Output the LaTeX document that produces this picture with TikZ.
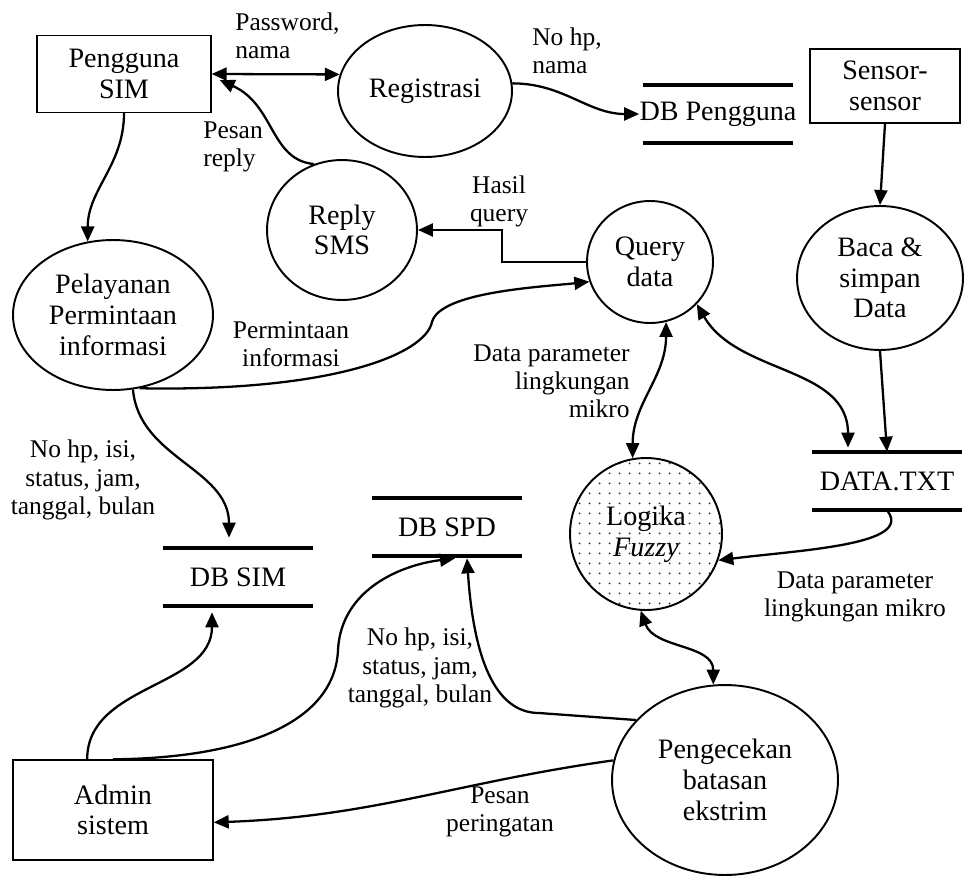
\documentclass[tikz,border=0pt]{standalone}
\usepackage{fontspec}
\setmainfont{Liberation Serif}
\usetikzlibrary{shapes.geometric,arrows.meta,calc,patterns.meta}

\begin{document}
\begin{tikzpicture}[
  % GLOBAL CFG
  x=0.02cm, y=-0.02cm,
  font=\fontsize{16}{17.5}\selectfont,
  >={Triangle[length=3mm,width=2.6mm]},
  % Styles
  entity/.style={% For external entities
      rectangle,
      draw,
      line width=.8pt,
      align=center,
      inner sep=0pt,
      },
  process/.style={% For processes
      ellipse,
      draw,
      line width=1.1pt,
      align=center,
      inner sep=0pt,
      },
  store/.style={% For data stores (the two lines come later)
      rectangle,
      minimum width=3cm,
      minimum height=1.16cm,
      inner sep=0pt,
      },
  storeline/.style={% Lines of a data store
      line width=2.3pt,
      },
  flow/.style={% Data flows
      ->,
      line width=1.3pt,
      },
  mylabel/.style={% Labels of the flows
      font=\fontsize{14.5}{16}\selectfont,
      inner sep=0pt,
      },
  ]

  \useasboundingbox (0,0) rectangle (968,879);

  % Entities
  \node [entity, minimum width=3.48cm, minimum height=1.54cm] (pguna) at (124,74) {Pengguna\\SIM};
  \node [entity, minimum width=3cm, minimum height=1.48cm] (sensor) at (885,86) {Sensor-\\sensor};
  \node [entity, minimum width=4cm, minimum height=2cm] (admin) at (113,810) {Admin\\sistem};

  % Processes
  \node [process, minimum width=3.48cm, minimum height=2.64cm] (regis) at (425,91) {Registrasi};
  \node [process, minimum width=3cm, minimum height=2.8cm] (reply) at (342,230) {Reply\\SMS};
  \node [process, minimum width=2.52cm, minimum height=2.44cm] (query) at (650,262) {Query\\data};
  \node [process, minimum width=3.32cm, minimum height=2.88cm] (baca) at (880,278) {Baca \&\\simpan\\Data};
  \node [process, minimum width=4cm, minimum height=3cm] (layan) at (113,315) {Pelayanan\\Permintaan\\informasi};
  \node [process, minimum width=3.04cm, minimum height=3.04cm,
         pattern={Dots[distance=1.9mm, radius=.6pt]}, pattern color=black!80] (fuzzy) at (646,534) {Logika\\\textit{Fuzzy}};
  \node [process, minimum width=4.52cm, minimum height=3.8cm] (cek) at (725,780) {Pengecekan\\batasan\\ekstrim};

  % Data stores
  \node [store] (dbpgn) at (718,114) {DB Pengguna};
  \node [store] (dtxt) at (887,481) {DATA.TXT};
  \node [store] (dbsim) at (238,577) {DB SIM};
  \node [store] (dbspd) at (447,527) {DB SPD};
  \foreach \db in {dbpgn,dtxt,dbsim,dbspd}{
    \draw [storeline] ($(\db)+(-75,-29)$) -- ++(150,0);
    \draw [storeline] ($(\db)+(-75,29)$) -- ++(150,0);
  }

  % Flows
  \draw [flow, <->] (pguna.east) -- (regis.169);
  \draw [flow] (reply.113) .. controls (270,160) and (275,105) .. ($(pguna.east)+(8,6)$);
  \draw [flow] (pguna.south) to[out=-90,in=90] (layan.109);
  \draw [flow] (regis.5) to[out=0,in=180] (dbpgn.west);
  \draw [flow] (query.west) -- ++(-84,0) |- (reply.east);
  \draw [flow] (sensor.south) -- (baca.north);
  \draw [flow] (baca.south) -- (dtxt.north);
  \draw [flow, <->] (query.318) to[out=-60,in=90] ($(dtxt.north)+(-39,-4)$);
  \draw [flow, <->] (query.285) to[out=-90,in=90] (fuzzy.100);
  \draw [flow] (dtxt.south) .. controls (915,545) and (800,550) .. (fuzzy.340);
  \draw [flow, <->] (fuzzy.266) to[out=-70,in=90] (cek.97);
  \draw [flow] (cek.146) -- ++(-97,-7) .. controls (505,713) and (475,680) .. ($(dbspd.south)+(20,2)$);
  \draw [flow] (admin.north) .. controls (250,758) and (335,720) .. (338,650)
                .. controls (341,590) and (400,565) .. ($(dbspd.south)+(8,2)$);
  \draw [flow] (admin.117) to[out=90,in=-90] ($(dbsim.south)+(-26,6)$);
  \draw [flow] (cek.170) to[out=188,in=2] (admin.353);
  \draw [flow] (layan.285) to[out=-85,in=90] ($(dbsim.north)+(-9,-10)$);
  \draw [flow] (layan.290) .. controls (330,392) and (425,355) .. (432,322)
                .. controls (440,292) and (540,287) .. (query.198);

  % Labels
  \node [mylabel, anchor=west, align=left] (lpass) at (235,36) {Password,\\nama};
  \node [mylabel, anchor=west, align=left] (lnohp) at (532,51) {No hp,\\nama};
  \node [mylabel, anchor=west, align=left] (lpesan) at (203,147) {Pesan\\reply};
  \node [mylabel, align=center] (lhasil) at (499,201) {Hasil\\query};
  \node [mylabel, align=center] (lminta) at (291,344) {Permintaan\\informasi};
  \node [mylabel, anchor=east, align=right] (lparam1) at (630,381) {Data parameter\\lingkungan\\mikro};
  \node [mylabel, align=center] (lsim) at (83,480) {No hp, isi,\\status, jam,\\tanggal, bulan};
  \node [mylabel, align=center] (lspd) at (420,668) {No hp, isi,\\status, jam,\\tanggal, bulan};
  \node [mylabel, align=center] (lparam2) at (855,597) {Data parameter\\lingkungan mikro};
  \node [mylabel, align=center] (lwarn) at (500,812) {Pesan\\peringatan};

\end{tikzpicture}
\end{document}
